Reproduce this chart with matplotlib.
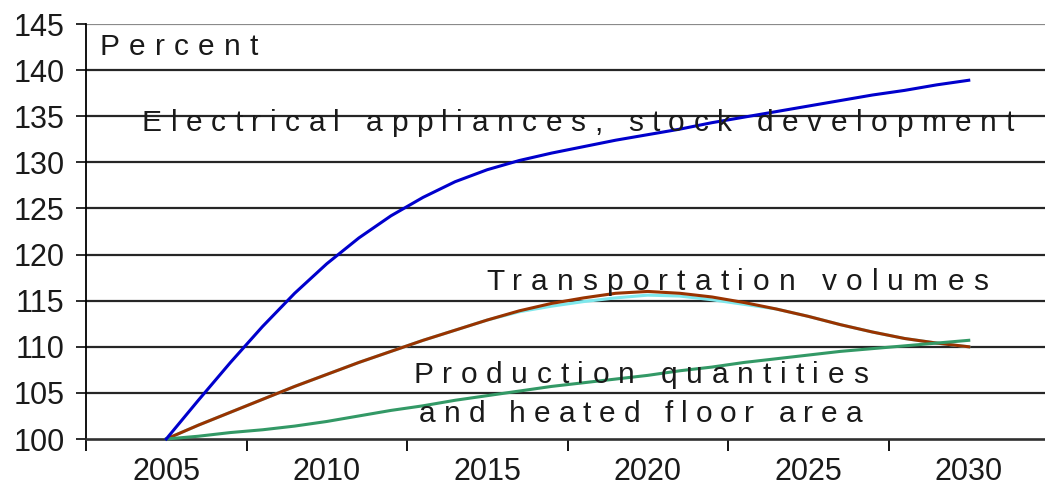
import matplotlib
matplotlib.use("Agg")
import matplotlib.pyplot as plt
from matplotlib.font_manager import FontProperties
from matplotlib.ticker import FixedLocator

plt.rcParams['font.family'] = ['Liberation Sans', 'DejaVu Sans']

# ---- data -------------------------------------------------------------
years = list(range(2005, 2031))

electrical_appliances = [100.0, 104.2, 108.3, 112.2, 115.8, 119.0, 121.8, 124.2,
                         126.2, 127.9, 129.2, 130.2, 131.0, 131.7, 132.4, 133.0,
                         133.6, 134.3, 134.9, 135.5, 136.1, 136.7, 137.3, 137.8,
                         138.4, 138.9]

transportation = [100.0, 101.5, 102.9, 104.3, 105.7, 107.0, 108.3, 109.5,
                  110.7, 111.8, 112.9, 113.9, 114.7, 115.3, 115.8, 116.0,
                  115.8, 115.4, 114.8, 114.1, 113.3, 112.4, 111.6, 110.9,
                  110.4, 110.0]

transportation_alt = [100.0, 101.5, 102.9, 104.3, 105.7, 107.0, 108.3, 109.5,
                      110.7, 111.8, 112.9, 113.8, 114.4, 114.9, 115.3, 115.6,
                      115.5, 115.1, 114.6, 114.1, 113.3, 112.4, 111.6, 110.9,
                      110.4, 110.0]

production_floor_area = [100.0, 100.3, 100.7, 101.0, 101.4, 101.9, 102.5, 103.1,
                         103.6, 104.2, 104.7, 105.2, 105.7, 106.1, 106.5, 106.9,
                         107.4, 107.8, 108.3, 108.7, 109.1, 109.5, 109.8, 110.1,
                         110.4, 110.7]

y_ticks = [100, 105, 110, 115, 120, 125, 130, 135, 140, 145]
x_label_years = [2005, 2010, 2015, 2020, 2025, 2030]

# ---- figure -----------------------------------------------------------
W, H = 1045, 499
fig = plt.figure(figsize=(W / 100, H / 100), dpi=100)
ax = fig.add_axes([86 / W, 60 / H, 963 / W, 415 / H])
ax.set_xlim(2002.5, 2032.5)
ax.set_ylim(100, 145)

for y in y_ticks[1:]:
    col = '#8a8a8a' if y == 145 else '#262626'
    ax.axhline(y, color=col, lw=1.6, zorder=1)

ax.plot(years, transportation_alt, color='#7fe8ec', lw=2.2, zorder=2, clip_on=False)
ax.plot(years, transportation, color='#993300', lw=2.2, zorder=3, clip_on=False)
ax.plot(years, production_floor_area, color='#339966', lw=2.2, zorder=3, clip_on=False)
ax.plot(years, electrical_appliances, color='#0000cc', lw=2.2, zorder=4, clip_on=False)

for s in ('top', 'right'):
    ax.spines[s].set_visible(False)
ax.spines['left'].set_color('black')
ax.spines['left'].set_linewidth(1.3)
ax.spines['bottom'].set_color('#303030')
ax.spines['bottom'].set_linewidth(1.9)

ax.set_yticks(y_ticks)
ax.set_yticklabels([str(v) for v in y_ticks])
ax.tick_params(axis='y', direction='out', length=7.5, width=1.3,
               labelsize=22, pad=8, colors='#1a1a1a')

ax.set_xticks(x_label_years)
ax.set_xticklabels([str(v) for v in x_label_years])
ax.xaxis.set_minor_locator(FixedLocator([2002.5, 2007.5, 2012.5, 2017.5,
                                         2022.5, 2027.5]))
ax.tick_params(axis='x', which='major', length=0, labelsize=22, pad=13,
               colors='#1a1a1a')
ax.tick_params(axis='x', which='minor', direction='out', length=8.5, width=1.3,
               color='black')

# ---- letter-spaced annotations ------------------------------------------
renderer = fig.canvas.get_renderer()
ann_prop = FontProperties(family='Liberation Sans', size=21.5)


def ink_width(s):
    w, _, _ = renderer.get_text_width_height_descent(s, ann_prop, ismath=False)
    return w


def tracked_text(s, x0, x1, baseline):
    natural = ink_width(s)
    track = (x1 - x0 - natural) / (len(s) - 1)
    for i, c in enumerate(s):
        if c == ' ':
            continue
        offset = ink_width(s[:i] + c) - ink_width(c) if i else 0.0
        x = x0 + offset + i * track
        fig.text(x / W, 1 - baseline / H, c, fontproperties=ann_prop,
                 ha='left', va='baseline', color='#1a1a1a', zorder=2)


tracked_text("Percent", 100, 258, 55)
tracked_text("Electrical appliances, stock development", 142, 1014, 131)
tracked_text("Transportation volumes", 486, 988, 290)
tracked_text("Production quantities", 413, 868, 383)
tracked_text("and heated floor area", 419, 862, 422)

fig.savefig("out.png", dpi=100)
